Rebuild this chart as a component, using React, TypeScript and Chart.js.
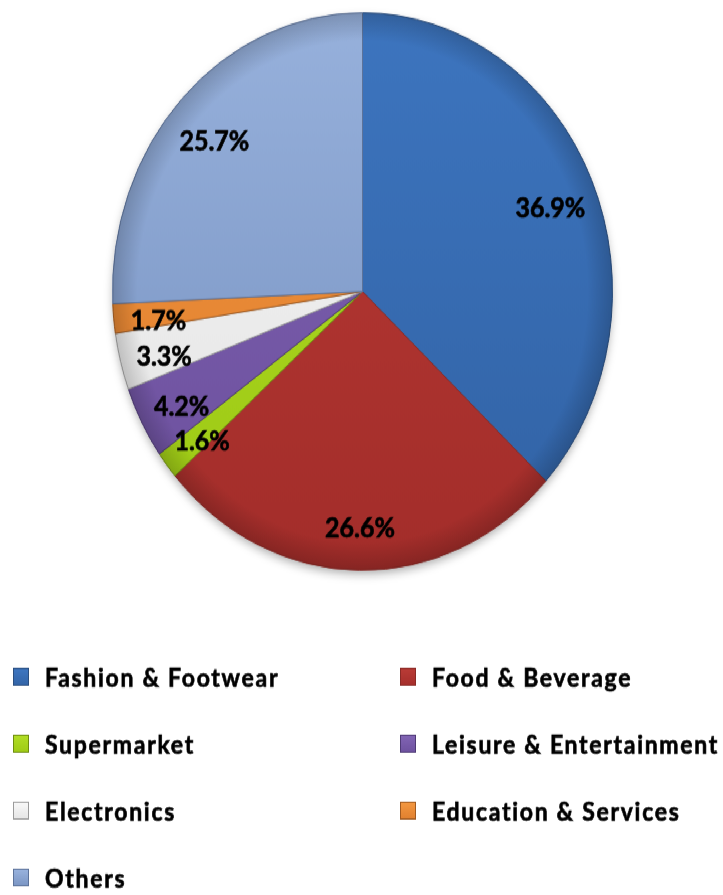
import { useEffect, useRef } from "react";
import { Chart, registerables } from "chart.js";

Chart.register(...registerables);

const categories = [
  "Fashion & Footwear",
  "Food & Beverage",
  "Supermarket",
  "Leisure & Entertainment",
  "Electronics",
  "Education & Services",
  "Others",
];
const shares = [36.9, 26.6, 1.6, 4.2, 3.3, 1.7, 25.7];
const topColors = ["#3D75BF", "#B83A35", "#B0DC24", "#8063B3", "#F7F7F7", "#F2963F", "#97B1DC"];
const bottomColors = ["#3162A4", "#A32D2A", "#9CC814", "#6B4F9C", "#E2E2E2", "#DE7C2C", "#7590BF"];
const edgeColors = ["#2B4F80", "#8A2A26", "#6E8C10", "#4E3A75", "#9A9A9A", "#A05A20", "#5D739A"];

const STRETCH = 1.115;
const W = 723;
const H = Math.round(895 / STRETCH);
const FONT = "Lato, 'Open Sans', sans-serif";

const shadowPlugin = {
  id: "pieShadow",
  beforeDatasetsDraw(chart: any) {
    const arcs = chart.getDatasetMeta(0).data;
    if (!arcs.length) return;
    const a = arcs[0];
    const ctx = chart.ctx;
    ctx.save();
    ctx.shadowColor = "rgba(0,0,0,0.35)";
    ctx.shadowBlur = 10;
    ctx.shadowOffsetY = 4;
    ctx.beginPath();
    ctx.arc(a.x, a.y, a.outerRadius - 1, 0, Math.PI * 2);
    ctx.fillStyle = "#ffffff";
    ctx.fill();
    ctx.restore();
  },
  afterDatasetsDraw(chart: any) {
    const arcs = chart.getDatasetMeta(0).data;
    if (!arcs.length) return;
    const a = arcs[0];
    const ctx = chart.ctx;
    ctx.save();
    ctx.beginPath();
    ctx.arc(a.x, a.y, a.outerRadius, 0, Math.PI * 2);
    ctx.clip();
    const g = ctx.createRadialGradient(a.x, a.y, a.outerRadius * 0.9, a.x, a.y, a.outerRadius);
    g.addColorStop(0, "rgba(0,0,0,0)");
    g.addColorStop(1, "rgba(0,0,0,0.18)");
    ctx.fillStyle = g;
    ctx.fillRect(a.x - a.outerRadius, a.y - a.outerRadius, a.outerRadius * 2, a.outerRadius * 2);
    ctx.restore();
  },
};

function heavyText(ctx: any, text: string, x: number, y: number) {
  ctx.fillText(text, x, y);
  ctx.strokeText(text, x, y);
}

const labelPlugin = {
  id: "sliceLabels",
  afterDraw(chart: any) {
    const ctx = chart.ctx;
    const meta = chart.getDatasetMeta(0);
    const values = chart.data.datasets[0].data as number[];
    ctx.save();
    ctx.font = `bold 25px ${FONT}`;
    ctx.fillStyle = "#000000";
    ctx.strokeStyle = "#000000";
    ctx.lineWidth = 0.6;
    ctx.textAlign = "center";
    ctx.textBaseline = "middle";
    meta.data.forEach((arc: any, i: number) => {
      const mid = (arc.startAngle + arc.endAngle) / 2;
      const r = arc.outerRadius * 0.82;
      const x = arc.x + Math.cos(mid) * r;
      const y = arc.y + Math.sin(mid) * r + 7;
      heavyText(ctx, values[i].toFixed(1) + "%", x, y);
    });
    ctx.restore();
  },
};

const legendPlugin = {
  id: "gridLegend",
  afterDraw(chart: any) {
    const ctx = chart.ctx;
    const labels = chart.data.labels as string[];
    const colX = [13, 400];
    const textOffset = 32;
    const top = 609;
    const step = 60;
    const box = 16;
    ctx.save();
    ctx.font = `bold 23px ${FONT}`;
    try {
      ctx.letterSpacing = "1.7px";
    } catch (e) {}
    ctx.textBaseline = "middle";
    ctx.textAlign = "left";
    labels.forEach((lab, i) => {
      const col = i % 2;
      const row = Math.floor(i / 2);
      const x = colX[col];
      const y = top + row * step;
      const g = ctx.createLinearGradient(x, y - box / 2, x, y + box / 2);
      g.addColorStop(0, topColors[i]);
      g.addColorStop(1, bottomColors[i]);
      ctx.fillStyle = g;
      ctx.fillRect(x, y - box / 2 - 2, box, box);
      ctx.strokeStyle = edgeColors[i];
      ctx.lineWidth = 1;
      ctx.strokeRect(x + 0.5, y - box / 2 - 1.5, box - 1, box - 1);
      ctx.fillStyle = "#000000";
      ctx.strokeStyle = "#000000";
      ctx.lineWidth = 0.6;
      heavyText(ctx, lab, x + textOffset, y);
    });
    ctx.restore();
  },
};

export default function App() {
  const ref = useRef<HTMLCanvasElement | null>(null);
  useEffect(() => {
    if (!ref.current) return;
    const chart = new Chart(ref.current, {
      type: "pie",
      data: {
        labels: categories,
        datasets: [
          {
            data: shares,
            backgroundColor: (c: any) => {
              const i = c.dataIndex ?? 0;
              const area = c.chart.chartArea;
              if (!area) return topColors[i];
              const g = c.chart.ctx.createLinearGradient(0, area.top, 0, area.bottom);
              g.addColorStop(0, topColors[i]);
              g.addColorStop(1, bottomColors[i]);
              return g;
            },
            borderColor: edgeColors,
            borderWidth: 1,
          },
        ],
      },
      options: {
        responsive: false,
        animation: false,
        events: [],
        layout: { padding: { left: 112, right: 110, top: 11, bottom: H - 512 } },
        plugins: {
          legend: { display: false },
          tooltip: { enabled: false },
        },
      },
      plugins: [shadowPlugin, labelPlugin, legendPlugin],
    });
    return () => chart.destroy();
  }, []);
  return (
    <div
      style={{
        position: "fixed",
        left: 0,
        top: 0,
        width: W,
        height: H,
        background: "#ffffff",
        transform: `scaleY(${STRETCH})`,
        transformOrigin: "0 0",
      }}
    >
      <canvas ref={ref} width={W} height={H} style={{ width: W, height: H, display: "block" }} />
    </div>
  );
}
